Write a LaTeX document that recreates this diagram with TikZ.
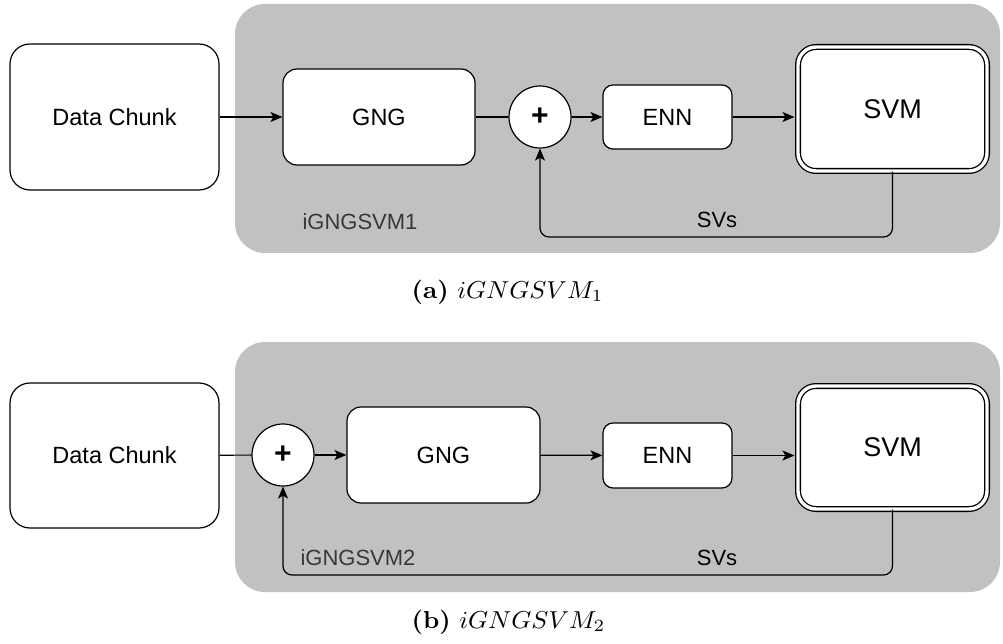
\documentclass[tikz,border=0pt]{standalone}
\usepackage{fontspec}
\newfontfamily\diafont{Liberation Sans}
\usetikzlibrary{arrows.meta}
\definecolor{panelgray}{HTML}{C1C1C1}
\definecolor{labelgray}{HTML}{383838}
\tikzset{
  panel/.style={fill=panelgray, draw=none, rounded corners=30pt, inner sep=0pt},
  box/.style={draw=black, fill=white, line width=1.2pt, inner sep=0pt,
    font=\diafont\fontsize{23.5}{26}\selectfont},
  sumnode/.style={circle, draw=black, fill=white, line width=1.2pt, inner sep=0pt,
    minimum size=62pt, font=\diafont\bfseries\fontsize{30}{32}\selectfont},
  svmbox/.style={draw=black, double=white, double distance=3.4pt, line width=1.3pt,
    fill=white, inner sep=0pt, rounded corners=18pt,
    font=\diafont\fontsize{27}{30}\selectfont},
  arr/.style={line width=1.2pt, -{Stealth[length=12pt,width=10pt,inset=3pt]}},
  plain/.style={line width=1.2pt},
  tag/.style={font=\diafont\fontsize{22}{24}\selectfont, inner sep=0pt},
  captext/.style={inner sep=0pt, anchor=base}
}
\newcommand{\capbox}[2]{\scalebox{2.55}[2.45]{\textbf{(#1)}\ $iGNGSVM_{#2}$}}
\begin{document}
\begin{tikzpicture}[x=1pt,y=-1pt]
\useasboundingbox (0,0) rectangle (1003,644);

% ---------- panel (a) ----------
\node[panel, minimum width=765pt, minimum height=249pt] (pa) at (617.5,128.5) {};
\node[box, rounded corners=20pt, minimum width=209pt, minimum height=146pt] (dca) at (114.5,117) {Data Chunk};
\node[box, rounded corners=14pt, minimum width=192pt, minimum height=96pt] (gnga) at (379,117) {GNG};
\node[sumnode] (suma) at (540,117) {+};
\node[box, rounded corners=10pt, minimum width=129pt, minimum height=64pt] (enna) at (667.5,117) {ENN};
\node[svmbox, minimum width=189pt, minimum height=124pt] (svma) at (892.5,109) {SVM};
\node[tag, text=labelgray] (taga) at (360,222) {iGNGSVM1};
\node[tag] (sva) at (717,220) {SVs};
\coordinate (fba) at (540,237);

\draw[arr] (dca) -- (gnga);
\draw[plain] (gnga) -- (suma);
\draw[arr] (suma) -- (enna);
\draw[arr] (enna.east) -- ([xshift=-2.9pt]enna.east -| svma.west);
\draw[arr, rounded corners=9pt] (svma.south) |- (fba) -- (suma.south);

\node[captext] (capa) at (507.5,298) {\capbox{a}{1}};

% ---------- panel (b) ----------
\node[panel, minimum width=765pt, minimum height=250pt] (pb) at (617.5,467) {};
\node[box, rounded corners=20pt, minimum width=209pt, minimum height=145pt] (dcb) at (114.5,455.5) {Data Chunk};
\node[sumnode] (sumb) at (283,455) {+};
\node[box, rounded corners=14pt, minimum width=193pt, minimum height=96pt] (gngb) at (443.5,455) {GNG};
\node[box, rounded corners=10pt, minimum width=129pt, minimum height=65pt] (ennb) at (667.5,455.5) {ENN};
\node[svmbox, minimum width=189pt, minimum height=123pt] (svmb) at (892.5,447.5) {SVM};
\node[tag, text=labelgray] (tagb) at (358,558) {iGNGSVM2};
\node[tag] (svb) at (717,558) {SVs};
\coordinate (fbb) at (283,575);

\draw[plain] (dcb) -- (sumb);
\draw[arr] (sumb) -- (gngb);
\draw[arr] (gngb) -- (ennb);
\draw[arr] (ennb.east) -- ([xshift=-2.9pt]ennb.east -| svmb.west);
\draw[arr, rounded corners=9pt] (svmb.south) |- (fbb) -- (sumb.south);

\node[captext] (capb) at (508.5,628) {\capbox{b}{2}};
\end{tikzpicture}
\end{document}
